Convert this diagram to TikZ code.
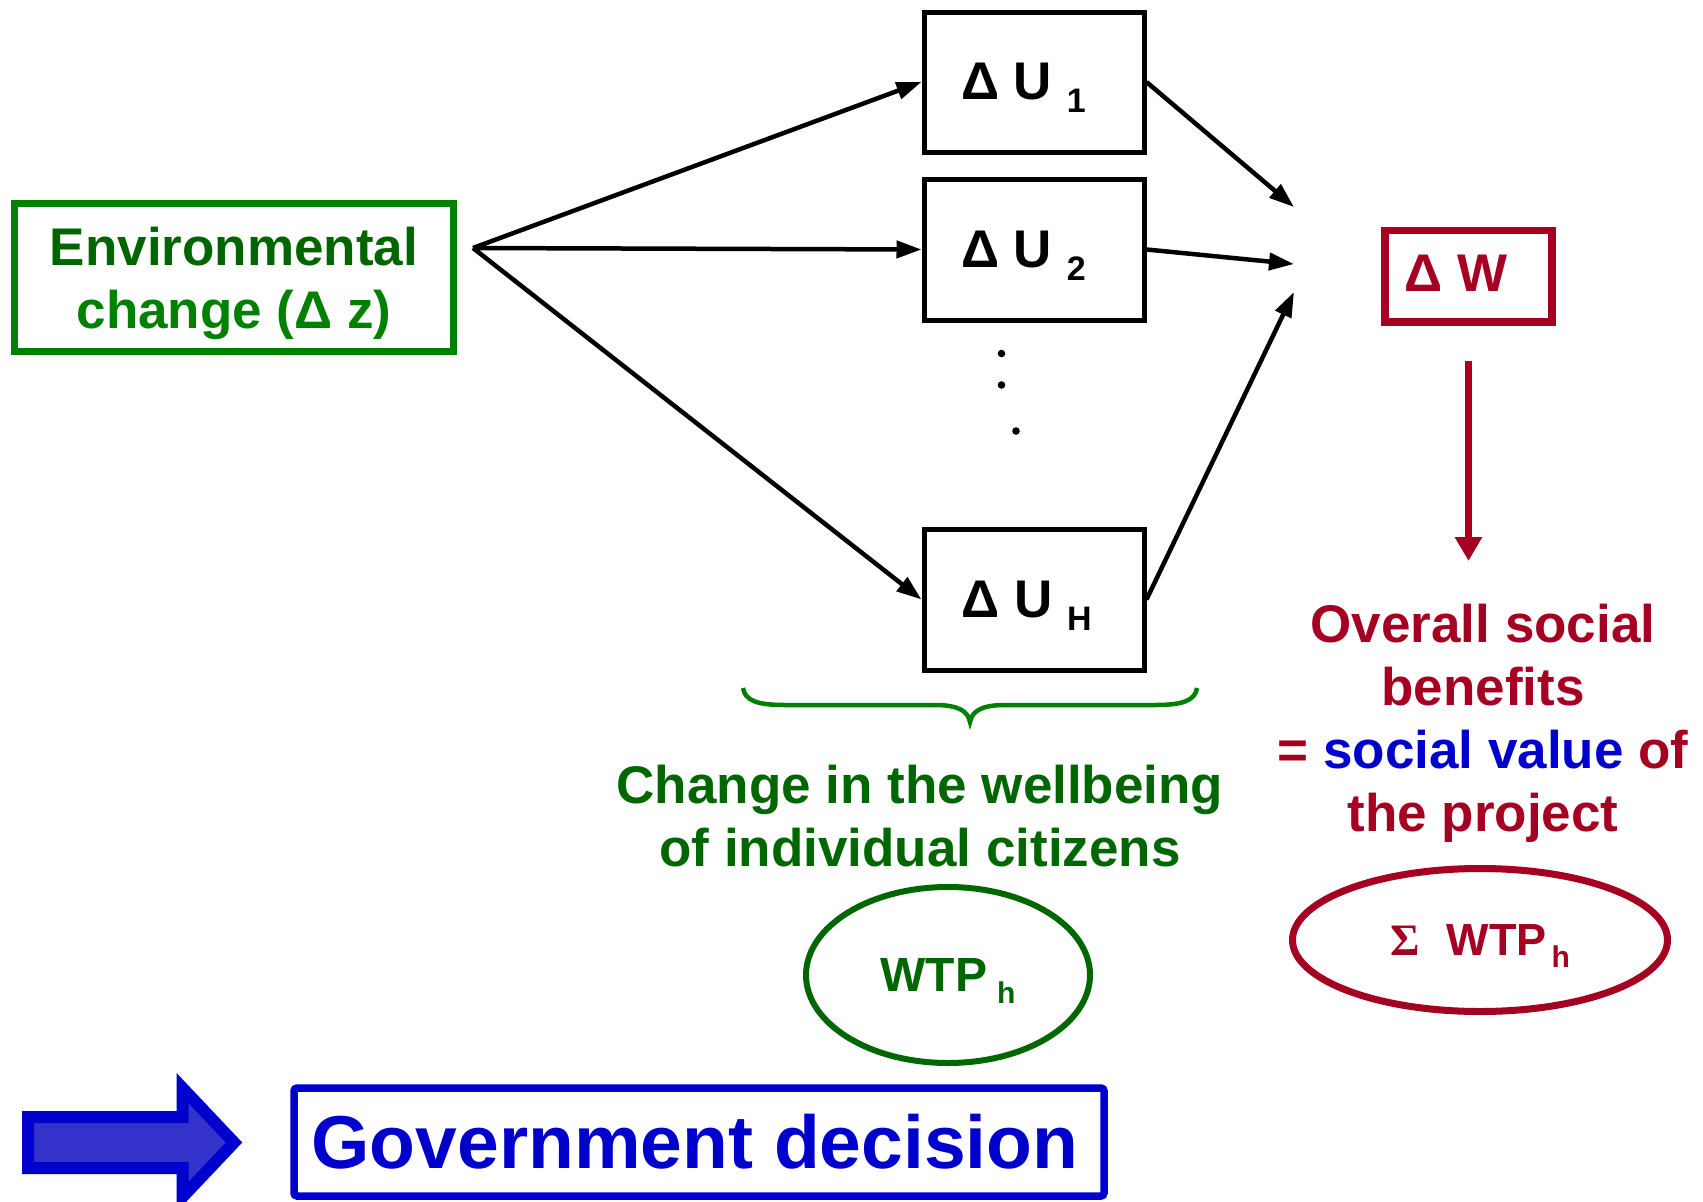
\documentclass[tikz,border=0pt]{standalone}
\usepackage{fontspec}
\setmainfont{Liberation Sans}
\newfontfamily\serifsym{Liberation Serif}
\usetikzlibrary{arrows.meta,shapes.geometric}
\definecolor{dkred}{RGB}{165,0,33}
\definecolor{txtgreen}{RGB}{0,102,0}
\definecolor{boxgreen}{RGB}{0,128,0}
\definecolor{envgreen}{RGB}{0,100,0}
\definecolor{gblue}{RGB}{0,0,204}
\definecolor{gfill}{RGB}{51,51,204}
\newcommand{\myfs}[1]{\fontsize{#1pt}{#1pt}\selectfont}
\newcommand{\usub}[1]{\raisebox{-13pt}[0pt][0pt]{\myfs{34}#1}}
\newcommand{\padr}[1]{\rule{#1}{0pt}}
\begin{document}
\begin{tikzpicture}[x=1pt,y=-1pt,
  ubox/.style={draw, line width=5pt, minimum width=220pt, minimum height=140pt, inner sep=0pt, font=\bfseries\myfs{53}},
  arr/.style={line width=4.5pt, -{Triangle[length=25pt,width=17pt]}},
  redarr/.style={draw=dkred, line width=6.5pt, -{Triangle[length=24pt,width=26pt]}},
  redtxt/.style={anchor=base, text=dkred, font=\bfseries\myfs{53}, inner sep=0pt},
  greentxt/.style={anchor=base, text=txtgreen, font=\bfseries\myfs{53}, inner sep=0pt}]
\useasboundingbox (0,0) rectangle (1703,1202);

% environmental change box
\node[draw=boxgreen, line width=7pt, minimum width=439pt, minimum height=148pt, inner sep=0pt] (env) at (233.5,277) {};
\node[anchor=base, text=envgreen, font=\bfseries\myfs{53}, inner sep=0pt] (envt1) at (234,265) {Environmental};
\node[anchor=base, text=boxgreen, font=\bfseries\myfs{53}, inner sep=0pt] (envt2) at (234,328) {change (Δ z)};

% utility boxes
\node[ubox] (u1) at (1034,82) {Δ U\hspace{14.7pt}\usub{1}\padr{21pt}};
\node[ubox, minimum height=141pt] (u2) at (1034,249.5) {Δ U\hspace{14.7pt}\usub{2}\padr{21pt}};
\node[ubox, minimum height=141pt] (uh) at (1034,599.5) {Δ U\hspace{14.7pt}\usub{H}\padr{15pt}};

% dots
\fill (1001.5,353.5) circle[radius=3.8pt];
\fill (1001.5,385) circle[radius=3.8pt];
\fill (1016,431) circle[radius=3.8pt];

% arrows from source
\coordinate (src) at (473,248);
\draw[arr] (src) -- (u1.west);
\draw[arr] (src) -- (u2.west);
\draw[arr] (src) -- (uh.west);

% arrows to Delta W
\coordinate (w1) at (1294,207);
\coordinate (w2) at (1294,264);
\coordinate (w3) at (1294,292);
\draw[arr] (u1.east) -- (w1);
\draw[arr] (u2.east) -- (w2);
\draw[arr] (uh.east) -- (w3);

% Delta W box
\node[draw=dkred, line width=7.5pt, minimum width=167pt, minimum height=91.5pt, inner sep=0pt,
      text=dkred, font=\bfseries\myfs{53}, text height=38pt, text depth=7pt] (dw) at (1468.5,276) {Δ W\padr{25pt}};
\coordinate (osbtop) at (1468.5,561);
\draw[redarr] ([yshift=-35pt]dw.south) -- (osbtop);

% red text
\node[redtxt] (o1) at (1483,642) {Overall social};
\node[redtxt] (o2) at (1483,705) {benefits};
\node[redtxt] (o3) at (1483,768) {= \textcolor{gblue}{social value} of};
\node[redtxt] (o4) at (1483,831) {the project};

% brace
\draw[boxgreen, line width=4.5pt]
  (743,688) .. controls (745,701) and (758,705) .. (785,705)
  -- (935,705) .. controls (960,705) and (968,712) .. (970,722)
  .. controls (972,712) and (980,705) .. (1005,705)
  -- (1155,705) .. controls (1182,705) and (1195,701) .. (1197,688);

% green text
\node[greentxt] (c1) at (920,803) {Change in the wellbeing};
\node[greentxt] (c2) at (920,866) {of individual citizens};

% ellipses
\node[ellipse, draw=txtgreen, line width=6pt, minimum width=284pt, minimum height=176pt, inner sep=0pt,
      text=txtgreen, font=\bfseries\myfs{48}] (wg) at (948,975)
      {WTP\hspace{10pt}\raisebox{-12.3pt}[0pt][0pt]{\myfs{30}h}};
\node[ellipse, draw=dkred, line width=7pt, minimum width=375pt, minimum height=143pt, inner sep=0pt,
      text=dkred] (wr) at (1480,940)
      {{\serifsym\bfseries\myfs{45}Σ}\hspace{27pt}{\bfseries\myfs{45}WTP}\hspace{5pt}\raisebox{-12pt}[0pt][0pt]{\bfseries\myfs{30}h}};

% government decision
\draw[fill=gfill, draw=gblue, line width=12pt, miter limit=10]
  (28,1117) -- (182.5,1117) -- (182.5,1088) -- (234,1142.5) -- (182.5,1197) -- (182.5,1168) -- (28,1168) -- cycle;
\node[draw=gblue, line width=7.5pt, rounded corners=3pt, minimum width=810pt, minimum height=108pt, inner sep=0pt,
      text=gblue, font=\bfseries\myfs{75}] (gov) at (699,1142) {Government decision\padr{8pt}};
\end{tikzpicture}
\end{document}
